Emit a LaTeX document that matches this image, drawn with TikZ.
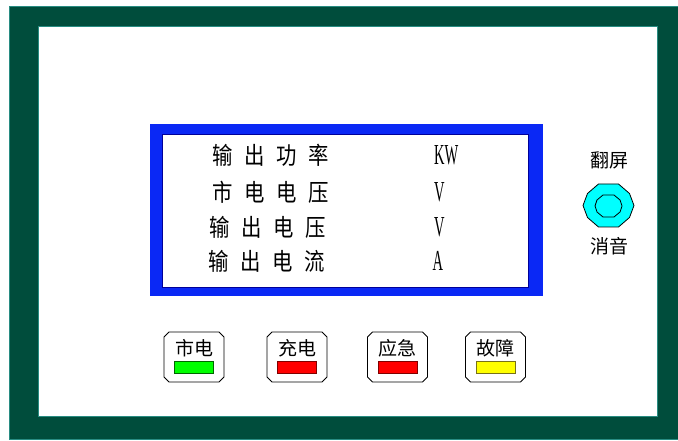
\documentclass[tikz,border=0pt]{standalone}
\usepackage{fontspec}
\newfontfamily\cjk{Noto Sans CJK SC}
\newfontfamily\cjkn[FakeStretch=0.85]{Noto Sans CJK SC}
\newfontfamily\unitfont[FakeStretch=0.5]{Liberation Serif}
\definecolor{framegreen}{RGB}{0,77,60}
\definecolor{frameedge}{RGB}{40,140,130}
\definecolor{lcdblue}{RGB}{10,40,245}
\definecolor{barred}{RGB}{255,0,0}
\definecolor{bargreen}{RGB}{0,255,0}
\definecolor{baryellow}{RGB}{255,255,0}
\definecolor{knobcyan}{RGB}{0,255,255}
\newcommand\gp{\hspace{11.6pt}}
\tikzset{
  rowtext/.style={anchor=west,inner sep=0pt,font=\cjkn\fontsize{24}{24}\selectfont},
  unittext/.style={anchor=west,inner sep=0pt,font=\unitfont\fontsize{29}{29}\selectfont},
  sidelabel/.style={inner sep=0pt,font=\cjk\fontsize{19}{19}\selectfont},
  btnlabel/.style={inner sep=0pt,font=\cjk\fontsize{19}{19}\selectfont},
  btnbox/.style={draw=black,line width=0.8pt,fill=white},
  lamp/.style={line width=0.8pt},
}
\newcommand\button[4]{% center x, name, label, fill/draw colors
  \draw[btnbox] (#1-30+5,332) -- (#1+30-5,332) -- (#1+30,337) -- (#1+30,377) -- (#1+30-5,382)
     -- (#1-30+5,382) -- (#1-30,377) -- (#1-30,337) -- cycle;
  \node[btnlabel] (#2) at (#1,348) {#3};
  \draw[lamp,#4] (#1-19.5,361) rectangle (#1+19.5,373);
}
\begin{document}
\begin{tikzpicture}[x=1pt,y=-1pt]
\useasboundingbox (0,0) rectangle (678,441);
% outer frame
\fill[framegreen,draw=frameedge,line width=1pt] (9.5,6.5) rectangle (678.5,439.5);
\fill[white,draw=frameedge,line width=1pt] (38,27) rectangle (657,416);
% LCD
\fill[lcdblue] (150,124) rectangle (543,296);
\fill[white,draw=blue!60!black,line width=0.5pt] (162,134) rectangle (528,287);
% rows
\node[rowtext] (r1) at (212,155.5) {输\gp 出\gp 功\gp 率};
\node[rowtext] (r2) at (212,192.5) {市\gp 电\gp 电\gp 压};
\node[rowtext] (r3) at (209.5,227) {输\gp 出\gp 电\gp 压};
\node[rowtext] (r4) at (208,261) {输\gp 出\gp 电\gp 流};
\node[unittext] (u1) at (434,155.5) {KW};
\node[unittext] (u2) at (434,192.5) {V};
\node[unittext] (u3) at (434,227) {V};
\node[unittext] (u4) at (432.5,261) {A};
% knob
\node[sidelabel] (flip) at (609,160.5) {翻屏};
\node[sidelabel] (mute) at (609,246) {消音};
\begin{scope}[shift={(608.5,205.5)}]
\filldraw[fill=knobcyan,draw=black,line width=0.8pt]
  (-10,-21.5) -- (10,-21.5) -- (21,-12) -- (25.5,0) -- (21,12) -- (10,21.5)
  -- (-10,21.5) -- (-21,12) -- (-25.5,0) -- (-21,-12) -- cycle;
\draw[black,line width=0.8pt,shift={(0,0.5)}]
  (-5.5,-11) -- (5.5,-11) -- (11.5,-6) -- (13.5,0) -- (11.5,6) -- (5.5,11)
  -- (-5.5,11) -- (-11.5,6) -- (-13.5,0) -- (-11.5,-6) -- cycle;
\end{scope}
% buttons
\button{194}{b1}{市电}{fill=bargreen,draw=green!40!black}
\button{297}{b2}{充电}{fill=barred,draw=red!50!black}
\button{397.5}{b3}{应急}{fill=barred,draw=red!50!black}
\button{495.5}{b4}{故障}{fill=baryellow,draw=olive!80!black}
\end{tikzpicture}
\end{document}
